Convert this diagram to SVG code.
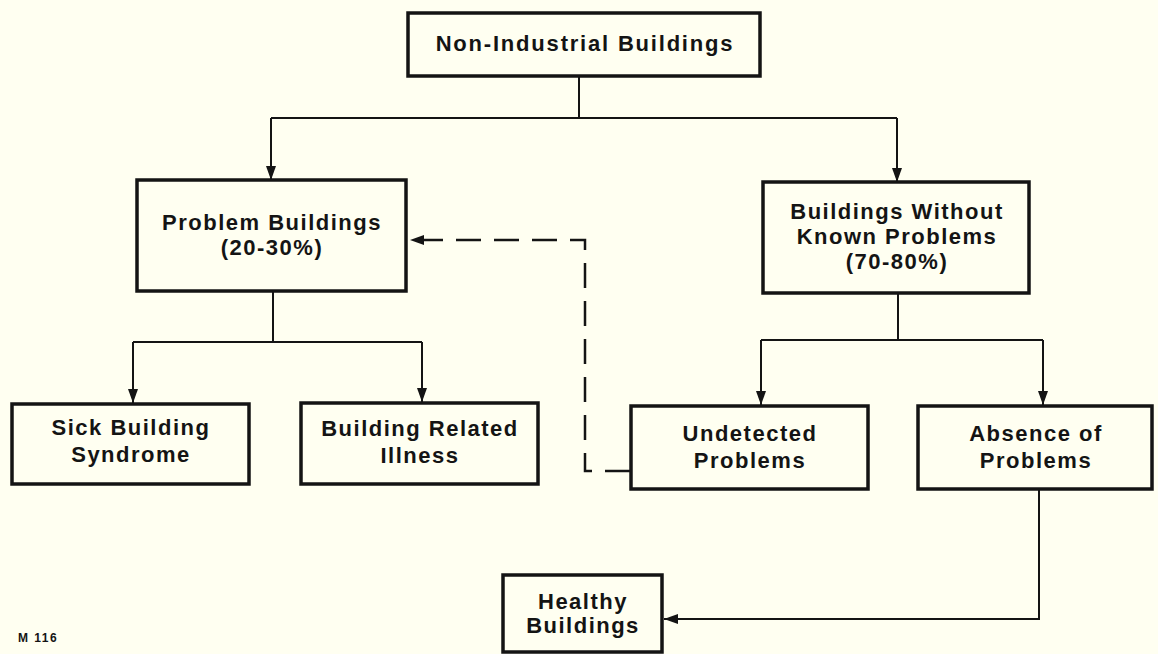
<svg xmlns="http://www.w3.org/2000/svg" width="1158" height="654" viewBox="0 0 1158 654">
<defs>
<style>
.box{fill:none;stroke:#141414;stroke-width:3.5}
.t{font-family:"Liberation Sans",Arial,Helvetica,sans-serif;font-weight:bold;font-size:22px;letter-spacing:1.5px;fill:#141414;text-anchor:middle}
.c{fill:none;stroke:#141414;stroke-width:2}
.d{fill:none;stroke:#141414;stroke-width:2.5;stroke-dasharray:25 13}
.small{font-family:"Liberation Sans",Arial,Helvetica,sans-serif;font-weight:bold;font-size:12px;letter-spacing:1.5px;fill:#141414}
</style>
<marker id="ah" viewBox="0 0 14 10" refX="14" refY="5" markerWidth="14" markerHeight="10" markerUnits="userSpaceOnUse" orient="auto">
<path d="M0,0 L14,5 L0,10 z" fill="#141414"/>
</marker>
</defs>
<rect width="1158" height="654" fill="#fffff1"/>
<g id="connectors">
<path class="c" d="M579,76 V118"/>
<path class="c" d="M271,118 H897"/>
<path class="c" d="M271,118 V180" marker-end="url(#ah)"/>
<path class="c" d="M897,118 V182" marker-end="url(#ah)"/>
<path class="c" d="M273,291 V342"/>
<path class="c" d="M133,342 H422"/>
<path class="c" d="M133,342 V403" marker-end="url(#ah)"/>
<path class="c" d="M422,342 V402" marker-end="url(#ah)"/>
<path class="c" d="M898,293 V340"/>
<path class="c" d="M761,340 H1043"/>
<path class="c" d="M761,340 V405" marker-end="url(#ah)"/>
<path class="c" d="M1043,340 V405" marker-end="url(#ah)"/>
<path class="c" d="M1039,489 V619 H664" marker-end="url(#ah)"/>
<path class="d" d="M630,471 H585 V240 H410" marker-end="url(#ah)"/>
</g>
<g id="non-industrial">
<rect class="box" x="408" y="13" width="352" height="63"/>
<text class="t" x="585" y="51" style="letter-spacing:1.8px">Non-Industrial Buildings</text>
</g>
<g id="problem-buildings">
<rect class="box" x="137" y="180" width="269" height="111"/>
<text class="t" x="272" y="230">Problem Buildings</text>
<text class="t" x="272" y="255">(20-30%)</text>
</g>
<g id="without-known">
<rect class="box" x="763" y="182" width="266" height="111"/>
<text class="t" x="897" y="219">Buildings Without</text>
<text class="t" x="897" y="244">Known Problems</text>
<text class="t" x="897" y="269">(70-80%)</text>
</g>
<g id="sick-building">
<rect class="box" x="12" y="404" width="237" height="80"/>
<text class="t" x="131" y="435">Sick Building</text>
<text class="t" x="131" y="462">Syndrome</text>
</g>
<g id="building-related">
<rect class="box" x="301" y="403" width="237" height="81"/>
<text class="t" x="420" y="436">Building Related</text>
<text class="t" x="420" y="463">Illness</text>
</g>
<g id="undetected">
<rect class="box" x="631" y="406" width="237" height="83"/>
<text class="t" x="750" y="441">Undetected</text>
<text class="t" x="750" y="468">Problems</text>
</g>
<g id="absence">
<rect class="box" x="918" y="406" width="234" height="83"/>
<text class="t" x="1036" y="441">Absence of</text>
<text class="t" x="1036" y="468">Problems</text>
</g>
<g id="healthy">
<rect class="box" x="503" y="575" width="159" height="77"/>
<text class="t" x="583" y="609">Healthy</text>
<text class="t" x="583" y="633">Buildings</text>
</g>
<text class="small" x="18" y="642">M 116</text>
</svg>
